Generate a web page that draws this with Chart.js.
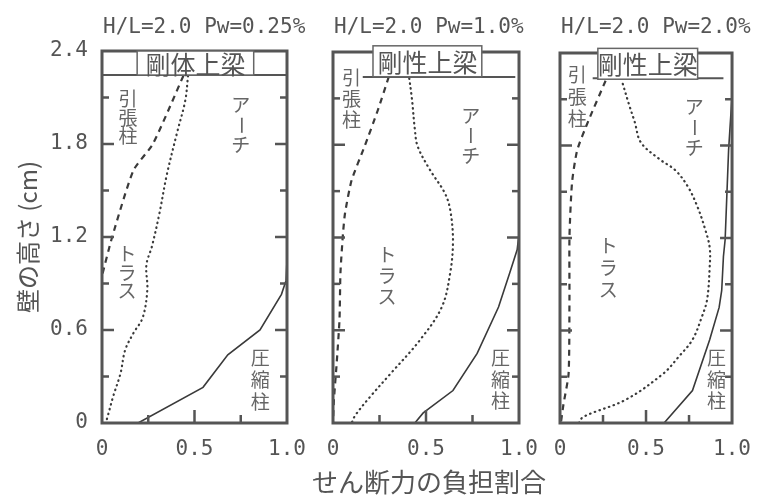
<!DOCTYPE html>
<html>
<head>
<meta charset="utf-8">
<script src="https://cdn.jsdelivr.net/npm/chart.js@4.4.0/dist/chart.umd.min.js"></script>
<style>
  html, body { margin: 0; padding: 0; background: #fff; }
  #wrap { position: relative; width: 765px; height: 502px; background: #fff; }
  #wrap canvas { position: absolute; left: 0; top: 0; }
</style>
</head>
<body>
<div id="wrap">
  <canvas id="c1" width="765" height="502"></canvas>
  <canvas id="c2" width="765" height="502"></canvas>
  <canvas id="c3" width="765" height="502"></canvas>
</div>
<script>
// shear share carried by each mechanism vs wall height, H/L = 2.0

const panelTitles = ['H/L=2.0 Pw=0.25%', 'H/L=2.0 Pw=1.0%', 'H/L=2.0 Pw=2.0%'];
const beamLabels = ['剛体上梁', '剛性上梁', '剛性上梁'];
const xTitle = 'せん断力の負担割合';
const yTitle = '壁の高さ (cm)';
const xTickLabels = [0, 0.5, 1.0];
const yTickLabels = [0, 0.6, 1.2, 1.8, 2.4];

// Pw = 0.25%  (tension = dashed, truss = dotted, arch = solid boundary)
const p1TensionH = [2.24, 1.80, 1.63, 1.20, 0.95];
const p1TensionX = [0.44, 0.275, 0.17, 0.055, 0.0];
const p1TrussH = [2.24, 2.08, 1.87, 1.60, 1.35, 1.14, 1.02, 0.86, 0.68, 0.58, 0.47, 0.32, 0.17, 0.04, 0];
const p1TrussX = [0.465, 0.45, 0.405, 0.35, 0.31, 0.27, 0.24, 0.245, 0.22, 0.17, 0.125, 0.10, 0.06, 0.03, 0.02];
const p1ArchH = [0, 0.23, 0.44, 0.60, 0.83, 0.92, 1.05];
const p1ArchX = [0.195, 0.546, 0.68, 0.854, 0.97, 0.995, 1.0];

// Pw = 1.0%
const p2TensionH = [2.24, 2.02, 1.79, 1.57, 1.36, 1.23, 0.97, 0.67, 0.39, 0.15, 0];
const p2TensionX = [0.30, 0.24, 0.17, 0.10, 0.065, 0.054, 0.04, 0.035, 0.02, 0.005, 0];
const p2TrussH = [2.23, 2.09, 1.90, 1.79, 1.64, 1.49, 1.38, 1.18, 0.97, 0.75, 0.54, 0.32, 0.17, 0.05, 0];
const p2TrussX = [0.41, 0.425, 0.44, 0.455, 0.52, 0.60, 0.63, 0.645, 0.63, 0.585, 0.47, 0.31, 0.20, 0.12, 0.10];
const p2ArchH = [0, 0.065, 0.21, 0.45, 0.75, 0.97, 1.12, 1.22];
const p2ArchX = [0.44, 0.485, 0.645, 0.775, 0.89, 0.95, 0.99, 1.0];

// Pw = 2.0%
const p3TensionH = [2.22, 1.96, 1.77, 1.56, 1.21, 0.80, 0.32, 0.12, 0];
const p3TensionX = [0.265, 0.165, 0.10, 0.07, 0.055, 0.055, 0.05, 0.02, 0.005];
const p3TrussH = [2.20, 2.07, 1.95, 1.82, 1.71, 1.64, 1.53, 1.40, 1.27, 1.14, 1.01, 0.80, 0.69, 0.54, 0.43, 0.32, 0.15, 0.04, 0];
const p3TrussX = [0.365, 0.40, 0.435, 0.47, 0.58, 0.67, 0.745, 0.80, 0.84, 0.87, 0.87, 0.855, 0.825, 0.77, 0.69, 0.60, 0.38, 0.135, 0.11];
const p3ArchH = [0, 0.21, 0.54, 0.75, 0.86, 1.08, 1.19, 1.77, 2.12];
const p3ArchX = [0.605, 0.77, 0.87, 0.925, 0.94, 0.95, 0.96, 0.98, 1.0];

const INK = '#3a3a3a';
const TEXT = '#555';
const MONO = '"DejaVu Sans Mono", monospace';
const JP = '"Noto Sans CJK JP", sans-serif';

const near = (a, b) => Math.abs(a - b) < 1e-6;
const onStep = (v, step) => near(v / step, Math.round(v / step));
const fmt = v => near(v, 0) ? '0' : v.toFixed(1);
const toPoints = (hs, xs) => hs.map((h, i) => ({ x: xs[i], y: h }));

function curveSets(tH, tX, rH, rX, aH, aX) {
  return [
    { data: toPoints(tH, tX), borderDash: [6, 5], borderWidth: 2.2, tension: 0.2 },
    { data: toPoints(rH, rX), borderDash: [0.5, 4.5], borderWidth: 2.2, borderCapStyle: 'round', tension: 0.35 },
    { data: toPoints(aH, aX), borderWidth: 1.6, tension: 0 },
  ].map(d => Object.assign({ showLine: true, pointRadius: 0, borderColor: INK, fill: false }, d));
}

function line(ctx, x1, y1, x2, y2) {
  ctx.beginPath(); ctx.moveTo(x1, y1); ctx.lineTo(x2, y2); ctx.stroke();
}

// frame, inward ticks, top beam, titles and the vertical labels
const panelDeco = {
  id: 'panelDeco',
  afterDatasetsDraw(chart, args, opts) {
    const { ctx, chartArea: a, scales: { x, y } } = chart;
    ctx.save();
    ctx.strokeStyle = '#555';
    ctx.lineCap = 'butt';

    const by = y.getPixelForValue(opts.band.h);
    ctx.lineWidth = 2;
    line(ctx, x.getPixelForValue(opts.band.from), by, x.getPixelForValue(opts.band.to), by);

    ctx.lineWidth = 3;
    ctx.strokeRect(a.left, a.top, a.right - a.left, a.bottom - a.top);

    ctx.lineWidth = 2.5;
    y.ticks.forEach(t => {
      if (t.value <= 0.01 || t.value >= 2.39) return;
      const py = y.getPixelForValue(t.value);
      const len = onStep(t.value, 0.6) ? 12 : 7;
      line(ctx, a.left, py, a.left + len, py);
      line(ctx, a.right, py, a.right - len, py);
    });
    x.ticks.forEach(t => {
      if (t.value <= 0.01 || t.value >= 0.99) return;
      const px = x.getPixelForValue(t.value);
      const len = onStep(t.value, 0.5) ? 13 : 8;
      line(ctx, px, a.bottom, px, a.bottom - len);
    });

    // beam label box
    const b = opts.beam;
    const bx0 = x.getPixelForValue(b.x0), bx1 = x.getPixelForValue(b.x1);
    const by0 = y.getPixelForValue(b.h1), by1 = y.getPixelForValue(b.h0);
    ctx.fillStyle = '#fff';
    ctx.fillRect(bx0, by0, bx1 - bx0, by1 - by0);
    ctx.lineWidth = 1.5;
    ctx.strokeStyle = '#666';
    ctx.strokeRect(bx0, by0, bx1 - bx0, by1 - by0);
    ctx.fillStyle = TEXT;
    ctx.font = '25px ' + JP;
    ctx.textAlign = 'center';
    ctx.textBaseline = 'middle';
    ctx.fillText(b.text, (bx0 + bx1) / 2, (by0 + by1) / 2 + 1);

    // panel title (drawn here so it is not squeezed to the plot width)
    ctx.font = '21px ' + MONO;
    ctx.textAlign = 'left';
    ctx.fillText(opts.title, a.left + 1, 28);

    if (opts.xTitle) {
      ctx.font = '26px ' + JP;
      ctx.textAlign = 'center';
      ctx.fillText(opts.xTitle, (a.left + a.right) / 2 + 3, 482);
    }

    // vertical labels
    ctx.font = '19px ' + JP;
    ctx.fillStyle = '#666';
    ctx.textAlign = 'center';
    opts.labels.forEach(l => {
      const px = x.getPixelForValue(l.v);
      const py = y.getPixelForValue(l.h);
      [...l.text].forEach((ch, i) => {
        const cy = py + i * l.step;
        if (ch === 'ー') {
          ctx.save();
          ctx.translate(px, cy);
          ctx.rotate(Math.PI / 2);
          ctx.fillText(ch, 0, 0);
          ctx.restore();
        } else {
          ctx.fillText(ch, px, cy);
        }
      });
    });
    ctx.restore();
  }
};

function makePanel(id, idx, sets, geo, deco) {
  const first = idx === 0;
  deco.title = panelTitles[idx];
  deco.beam.text = beamLabels[idx];
  return new Chart(document.getElementById(id), {
    type: 'scatter',
    data: { datasets: sets },
    plugins: [panelDeco],
    options: {
      responsive: false,
      animation: false,
      events: [],
      layout: { padding: { left: first ? 0 : geo.left, right: 765 - geo.right, top: geo.top, bottom: 0 } },
      plugins: {
        legend: { display: false },
        tooltip: { enabled: false },
        title: { display: false },
        panelDeco: deco,
      },
      scales: {
        x: {
          type: 'linear', min: 0, max: 1,
          grid: { display: false, drawTicks: false },
          border: { display: false },
          ticks: {
            stepSize: 0.25, autoSkip: false, maxRotation: 0, padding: 14,
            color: TEXT, font: { family: MONO, size: 21 },
            callback: v => xTickLabels.some(t => near(t, v)) ? fmt(v) : '',
          },
          afterFit: s => { s.height = 502 - geo.bottom; },
        },
        y: {
          type: 'linear', min: 0, max: 2.4,
          grid: { display: false, drawTicks: false },
          border: { display: false },
          ticks: {
            display: first, stepSize: 0.3, autoSkip: false, padding: 14,
            color: TEXT, font: { family: MONO, size: 21 },
            callback: v => yTickLabels.some(t => near(t, v)) ? fmt(v) : '',
          },
          title: {
            display: first, text: yTitle, color: TEXT,
            font: { family: JP, size: 24 }, padding: { top: 13, bottom: 0 },
          },
          afterFit: s => { s.width = first ? geo.left : 0; },
        },
      },
    },
  });
}

makePanel('c1', 0,
  curveSets(p1TensionH, p1TensionX, p1TrussH, p1TrussX, p1ArchH, p1ArchX),
  { left: 102, right: 287, top: 51, bottom: 423 },
  {
    band: { h: 2.245, from: 0, to: 1 },
    beam: { x0: 0.19, x1: 0.82, h0: 2.245, h1: 2.4 },
    labels: [
      { text: '引張柱', v: 0.14, h: 2.09, step: 18.5 },
      { text: 'アーチ', v: 0.75, h: 2.05, step: 20 },
      { text: 'トラス', v: 0.135, h: 1.09, step: 18.5 },
      { text: '圧縮柱', v: 0.855, h: 0.42, step: 22 },
    ],
  });

makePanel('c2', 1,
  curveSets(p2TensionH, p2TensionX, p2TrussH, p2TrussX, p2ArchH, p2ArchX),
  { left: 333, right: 519, top: 52, bottom: 423 },
  {
    band: { h: 2.238, from: 0.16, to: 0.98 },
    beam: { x0: 0.215, x1: 0.80, h0: 2.24, h1: 2.44 },
    xTitle: xTitle,
    labels: [
      { text: '引張柱', v: 0.10, h: 2.23, step: 21 },
      { text: 'アーチ', v: 0.74, h: 1.99, step: 20 },
      { text: 'トラス', v: 0.29, h: 1.09, step: 21 },
      { text: '圧縮柱', v: 0.90, h: 0.42, step: 21.5 },
    ],
  });

makePanel('c3', 2,
  curveSets(p3TensionH, p3TensionX, p3TrussH, p3TrussX, p3ArchH, p3ArchX),
  { left: 560, right: 744, top: 53, bottom: 423 },
  {
    band: { h: 2.237, from: 0.19, to: 0.95 },
    beam: { x0: 0.22, x1: 0.80, h0: 2.23, h1: 2.43 },
    labels: [
      { text: '引張柱', v: 0.10, h: 2.26, step: 22 },
      { text: 'アーチ', v: 0.78, h: 2.05, step: 20.5 },
      { text: 'トラス', v: 0.28, h: 1.15, step: 22 },
      { text: '圧縮柱', v: 0.91, h: 0.42, step: 21.5 },
    ],
  });
</script>
</body>
</html>
